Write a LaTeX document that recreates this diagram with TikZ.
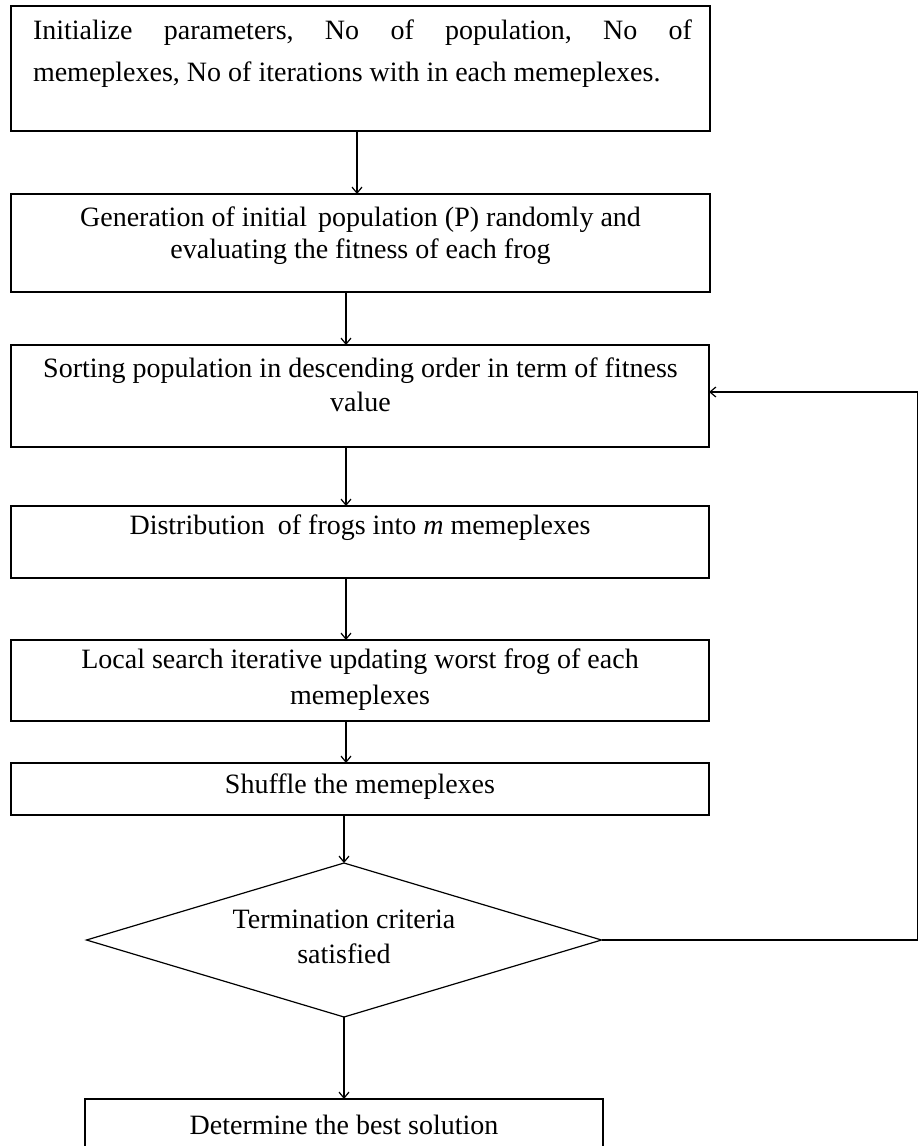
\documentclass[tikz,border=0pt]{standalone}
\usepackage{fontspec}
\setmainfont{Liberation Serif}
\usetikzlibrary{shapes.geometric,arrows.meta}
\begin{document}
\begin{tikzpicture}[x=1pt,y=-1pt,
  box/.style={draw, rectangle, line width=1.2pt, inner sep=0pt, outer sep=0pt},
  dia/.style={draw, diamond, line width=1.2pt, inner sep=0pt, outer sep=0pt},
  txt/.style={inner sep=0pt, font=\fontsize{28}{34}\selectfont},
  arr/.style={line width=1.2pt, -{Straight Barb[length=6pt,width=10pt]}},
  ln/.style={line width=1.2pt}]
\useasboundingbox (0,0) rectangle (919,1146);
\clip (0,0) rectangle (919,1146);
\fill[white] (0,0) rectangle (919,1146);
\coordinate (ax) at (346,0);
\coordinate (ax1) at (357,0);
% boxes
\node[box, minimum width=699pt, minimum height=125pt] (b1) at (360.5,68.5) {};
\node[box, minimum width=699pt, minimum height=98pt] (b2) at (360.5,243) {};
\node[box, minimum width=698pt, minimum height=102pt] (b3) at (360,396) {};
\node[box, minimum width=698pt, minimum height=72pt] (b4) at (360,542) {};
\node[box, minimum width=698pt, minimum height=81pt] (b5) at (360,680.5) {};
\node[box, minimum width=698pt, minimum height=52pt] (b6) at (360,789) {};
\node[dia, minimum width=515pt, minimum height=154pt] (d) at (344,940) {};
\node[box, minimum width=518pt, minimum height=90pt] (b7) at (344,1144) {};
% texts
\node[txt, text width=659pt, align=justify, font=\fontsize{28}{42}\selectfont] (t1) at (362.5,54)
  {Initialize\hfill parameters,\hfill No\hfill of\hfill population,\hfill No\hfill of\linebreak memeplexes, No of iterations with in each memeplexes.};
\node[txt, align=center, font=\fontsize{28}{32}\selectfont] (t2) at (360.5,236)
  {Generation of initial\hspace{4pt} population (P) randomly and\\ evaluating the fitness of each frog};
\node[txt, align=center, font=\fontsize{28}{34}\selectfont] (t3) at (360.5,385)
  {Sorting population in descending order in term of fitness\\ value};
\node[txt] (t4) at (360,528) {Distribution\hspace{6pt} of frogs into \textit{m} memeplexes};
\node[txt, align=center, font=\fontsize{28}{36}\selectfont] (t5) at (360,680)
  {Local search iterative updating worst frog of each\\ memeplexes};
\node[txt] (t6) at (360,787) {Shuffle the memeplexes};
\node[txt, align=center, font=\fontsize{28}{35}\selectfont] (td) at (344,937)
  {Termination criteria\\ satisfied};
\node[txt] (t7) at (344,1125) {Determine the best solution};
% connectors
\draw[arr] (b1.south -| ax1) -- (b2.north -| ax1);
\draw[arr] (b2.south -| ax) -- (b3.north -| ax);
\draw[arr] (b3.south -| ax) -- (b4.north -| ax);
\draw[arr] (b4.south -| ax) -- (b5.north -| ax);
\draw[arr] (b5.south -| ax) -- (b6.north -| ax);
\draw[arr] (b6.south -| d.north) -- (d.north);
\draw[arr] (d.south) -- (b7.north -| d.south);
\coordinate (c1) at (917.5,940);
\draw[arr] (d.east) -- (c1) |- ([yshift=4pt]b3.east);
\end{tikzpicture}
\end{document}
